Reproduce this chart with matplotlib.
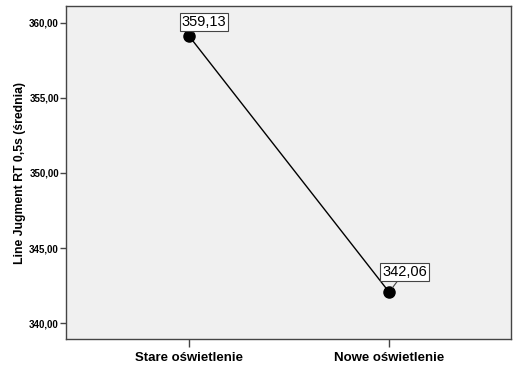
import matplotlib
matplotlib.use('Agg')
import matplotlib.pyplot as plt

#Data
groups = ['Stare oświetlenie', 'Nowe oświetlenie']
means = [359.13, 342.06]
labels = ['359,13', '342,06']
yticks = [340, 345, 350, 355, 360]
ytick_labels = ['340,00', '345,00', '350,00', '355,00', '360,00']

plt.rcParams['font.family'] = ['Liberation Sans', 'DejaVu Sans']

fig = plt.figure(figsize=(5.19, 3.71), dpi=100)
ax = fig.add_axes([0.127, 0.086, 0.858, 0.898])
ax.set_facecolor('#f0f0f0')

x = list(range(len(groups)))
ax.plot(x, means, color='black', linewidth=1, marker='o', markersize=8, zorder=3)

# value labels in boxes with short leader lines
offsets = [(11, 5), (11, 9.5)]
for xi, yi, lab, off in zip(x, means, labels, offsets):
    ax.annotate(lab, (xi, yi), xytext=off, textcoords='offset points',
                ha='center', va='bottom', fontsize=10.5,
                bbox=dict(boxstyle='square,pad=0.12', fc='white', ec='#444444', lw=0.8),
                arrowprops=dict(arrowstyle='-', color='#444444', lw=0.8, shrinkA=0, shrinkB=4),
                zorder=4)

ax.set_xlim(-0.615, 1.61)
ax.set_ylim(338.93, 361.13)
ax.set_xticks(x)
ax.set_xticklabels(groups, fontsize=9.5, fontweight='bold')
ax.set_yticks(yticks)
ax.set_yticklabels(ytick_labels, fontsize=7, fontweight='bold')
ax.set_ylabel('Line Jugment RT 0,5s (średnia)', fontsize=8.8, fontweight='bold', labelpad=2)
ax.tick_params(axis='x', length=6, width=1, color='#444444', pad=3)
ax.tick_params(axis='y', length=4, width=1, color='#444444', pad=1)
for s in ax.spines.values():
    s.set_color('#444444')
    s.set_linewidth(1)

plt.savefig('out.png', dpi=100)
